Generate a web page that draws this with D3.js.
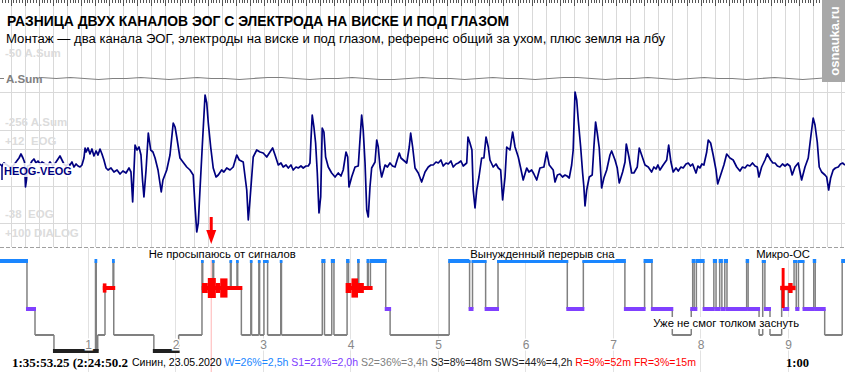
<!DOCTYPE html>
<html>
<head>
<meta charset="utf-8">
<script src="https://cdn.jsdelivr.net/npm/d3@7"></script>
<style>
  body { margin: 0; background: #fff; }
  svg { display: block; font-family: "Liberation Sans", Arial, sans-serif; }
</style>
</head>
<body>
<svg id="chart" width="845" height="372"></svg>
<script>
// ---- data ----
// 60 s page of the record, clock time of its left edge
const windowStart = new Date(2020, 4, 23, 1, 35, 53, 250);
const windowSeconds = 60;
// cursor position, hours since the start of the recording (2:24:50.25)
const cursorHours = 2 + 24 / 60 + 50.25 / 3600;

// HEOG-VEOG, seconds from page start / microvolts
const eogT = [0.00,0.14,0.28,0.50,0.71,0.92,1.14,1.35,1.49,1.63,1.74,1.81,1.88,1.95,2.13,2.27,2.41,2.56,2.70,2.84,2.98,3.20,3.41,3.55,3.76,3.98,4.12,4.26,4.40,4.54,4.69,4.83,4.97,5.11,5.25,5.40,5.54,5.68,5.82,5.96,6.04,6.11,6.25,6.39,6.53,6.67,6.82,6.96,7.10,7.24,7.38,7.53,7.67,7.88,8.09,8.31,8.52,8.73,8.95,9.16,9.30,9.42,9.59,9.73,9.87,10.01,10.12,10.22,10.37,10.53,10.70,10.86,11.01,11.22,11.45,11.57,11.84,12.07,12.30,12.43,12.55,12.78,12.99,13.26,13.49,13.72,13.85,13.97,14.08,14.20,14.36,14.56,14.68,14.79,14.96,15.14,15.34,15.50,15.74,15.90,16.10,16.33,16.56,16.81,16.99,17.27,17.52,17.63,17.75,17.98,18.23,18.46,18.69,18.94,19.17,19.36,19.53,19.76,19.95,20.11,20.31,20.47,20.66,20.82,21.02,21.18,
  21.37,21.53,21.73,21.89,22.01,22.08,22.17,22.29,22.41,22.53,22.65,22.77,22.88,23.00,23.12,23.31,23.55,23.79,24.02,24.21,24.37,24.57,24.69,24.78,24.97,25.21,25.44,25.56,25.68,25.79,25.92,26.04,26.15,26.27,26.39,26.63,26.75,26.86,26.98,27.10,27.34,27.51,27.69,27.87,28.05,28.35,28.47,28.63,28.88,29.06,29.16,29.30,29.47,29.70,29.94,30.18,30.41,30.60,30.76,30.96,31.12,31.31,31.47,31.67,31.83,32.02,32.18,32.38,32.54,32.73,32.89,33.14,33.23,33.37,33.51,33.60,33.73,33.85,34.01,34.20,34.36,34.51,34.67,34.79,35.02,35.22,35.38,35.55,35.69,35.86,35.98,36.21,36.40,36.57,36.80,36.97,37.15,37.40,37.56,37.75,37.91,38.11,38.34,38.62,38.82,39.00,39.28,39.41,39.58,39.76,39.94,40.12,40.26,40.42,
  40.59,40.70,40.83,40.95,41.06,41.23,41.37,41.46,41.54,41.66,41.84,42.05,42.17,42.29,42.41,42.55,42.72,42.88,43.08,43.31,43.43,43.67,43.83,43.97,44.21,44.38,44.47,44.66,44.85,45.01,45.25,45.39,45.56,45.80,46.03,46.27,46.43,46.58,46.72,46.86,47.09,47.34,47.48,47.64,47.80,48.00,48.16,48.35,48.51,48.71,48.87,49.03,49.18,49.31,49.42,49.56,49.70,49.84,49.98,50.18,50.29,50.46,50.64,50.84,50.96,51.17,51.40,51.60,51.83,52.06,52.31,52.54,52.72,52.90,53.07,53.25,53.43,53.61,53.77,53.89,54.08,54.32,54.48,54.72,54.88,55.03,55.20,55.38,55.56,55.74,55.91,56.09,56.25,56.45,56.68,56.92,57.16,57.39,57.56,57.74,57.87,58.03,58.17,58.34,58.58,58.70,58.84,58.98,59.16,59.32,59.52,59.68,59.83,60.00];
const eogV = [1,-1,2,0,-2,-1,3,7,11,7,3,-22,-15,-1,0,4,6,2,4,1,3,1,0,3,-1,3,6,9,5,1,-1,1,0,3,-2,1,-1,-2,0,7,17,13,17,11,16,9,14,10,16,11,5,-3,-5,-3,-7,-5,-9,-6,-8,-3,-7,-37,20,15,18,10,-15,-32,-5,32,15,13,7,-5,-27,-15,-5,10,42,38,28,7,3,-2,-5,-10,-42,-67,-58,-25,18,70,62,42,18,-3,-12,-10,-5,-7,-3,-5,-2,10,5,3,-25,-55,-35,8,15,13,12,8,13,17,10,0,2,-2,0,-3,0,-5,-2,-3,
  -1,-3,-1,-1,2,25,50,38,22,-8,-48,-32,37,33,8,-2,-8,-12,-8,-11,-5,13,8,-22,-12,-2,-1,25,50,35,2,-45,-52,-22,-3,3,25,18,-2,-12,0,-2,2,-1,-2,12,7,5,2,18,32,18,-3,-8,-17,-7,-2,0,0,3,2,5,-1,2,1,4,-2,1,2,4,-1,2,28,22,15,-25,-43,-25,-12,7,7,28,18,5,-2,1,-3,-5,-35,-12,18,15,33,18,8,-3,-15,-3,-7,-5,-9,-15,-3,-2,13,0,-5,-17,-10,-9,-12,-10,-11,-13,
  0,15,73,65,45,18,-8,-22,-41,-25,-12,-10,18,43,32,17,-23,-13,-5,10,14,5,-3,-18,-7,3,21,8,-8,-8,-2,17,10,0,-2,-7,-2,-4,0,-5,0,5,20,3,-7,-3,-6,-2,-3,1,2,-1,1,-4,-8,-1,-3,1,0,13,25,22,10,-5,-19,-10,0,11,7,5,-2,-6,-2,-3,0,-1,2,-1,-2,-12,-2,5,11,5,2,2,-1,-2,1,-1,1,-1,-10,-2,2,-15,-2,7,27,47,40,23,-2,-7,-10,-12,-25,-13,-5,-3,-2,1,2,0];

// A.Sum channel, one sample per second, microvolts around its baseline
const asumT = [2.9,4,5,6,7,8,9,10,11,12,13,14,15,16,17,18,19,20,21,22,23,24,25,26,27,28,29,30,31,32,33,34,35,36,37,38,39,40,41,42,43,44,45,46,47,48,49,50,51,52,53,54,55,56,57,58,59,60];
const asumV = [1,0,1,0,-1,0,0,1,0,-1,0,1,0,0,-1,0,1,1,0,-1,0,0,1,0,-1,-1,0,1,0,0,-1,0,1,0,0,-1,0,1,1,0,-1,0,0,1,0,-1,0,1,0,0,-1,0,1,0,-1,0,1,0];

// hypnogram: epoch (30 s) where each stage starts, and the stage
const hypnoEpoch = [0,37,48,74,131,132,134,144,155,156,211,245,277,278,292,293,316,317,325,326,331,344,345,355,356,362,367,385,386,442,445,455,458,476,478,491,492,504,505,508,529,535,616,644,648,666,683,778,800,857,884,894,922,948,950,952,955,965,979,982,987,990,994,997,1024,1026,1041,1046,1049,1056,1072,1075,1081,1089,1092,1095,1102,1116,1118,1131,1155];
const hypnoStage = ['W','S1','S2','S3','W','S3','S2','R','W','S2','S3','S2','W','R','W','R','W','R','W','R','S2','W','S2','W','S2','W','S2','W','S2','W','S2','W','S2','W','R','W','R','W','R','W','S1','S2','W','S1','W','S1','W','S1','W','S1','W','S1','S2','S1','W','S1','W','S1','W','S1','W','S1','W','S1','W','S1','S2','W','S1','S2','R','S1','R','W','S1','W','S1','W','S1','S2','W'];
const totalEpochs = 1159;

// rapid eye movement bursts during R: start epoch, end epoch, density
const remStart = [141,141,277,285,296,302,474,482,491,499,1070,1072,1081];
const remEnd   = [158,146,285,296,302,312,482,491,499,511,1091,1076,1087];
const remSize  = [1,2.3,2.5,5,2.5,4.8,2.5,4.8,2.5,1,1.1,10,2.5];

const hourTicks = [1,2,3,4,5,6,7,8,9];

const notes = ['Не просыпаюсь от сигналов','Вынужденный перерыв сна','Микро-ОС','Уже не смог толком заснуть'];
const noteEpoch = [204,645,1037,896];
const noteRow = ['top','top','top','low'];

const statText  = ['W=26%=2,5h','S1=21%=2,0h','S2=36%=3,4h','S3=8%=48m','SWS=44%=4,2h','R=9%=52m','FR=3%=15m'];
const statStage = ['W','S1','S2','S3','SWS','R','FR'];

// ---- drawing ----
const width = 845, height = 372;
const svg = d3.select('#chart');
svg.append('rect').attr('width', width).attr('height', height).attr('fill', '#fff');
const defs = svg.append('defs');

const windowEnd = new Date(+windowStart + windowSeconds * 1000);
const x = d3.scaleTime().domain([windowStart, windowEnd]).range([0, width]);
const tDate = s => new Date(+windowStart + s * 1000);

// grid: one line per second
const gridColor = '#d9d9d9';
const seconds = x.ticks(d3.timeSecond.every(1));
svg.append('g').selectAll('line').data(seconds).join('line')
  .attr('x1', d => Math.round(x(d)) + 0.5).attr('x2', d => Math.round(x(d)) + 0.5)
  .attr('y1', 6).attr('y2', 247)
  .attr('stroke', gridColor);

// ruler along the top edge
const fifths = x.ticks(d3.timeMillisecond.every(200));
svg.append('g').selectAll('line').data(fifths).join('line')
  .attr('x1', d => Math.round(x(d)) + 0.5).attr('x2', d => Math.round(x(d)) + 0.5)
  .attr('y1', 0).attr('y2', d => d.getMilliseconds() === 0 ? 6 : 3)
  .attr('stroke', '#555');

// horizontal lines of the EOG panel
const y = d3.scaleLinear().domain([-100, 100]).range([265, 65]);
const eogGrid = [73, 35, 16, -21, -58];
svg.append('g').selectAll('line').data(eogGrid).join('line')
  .attr('x1', 0).attr('x2', width)
  .attr('y1', d => Math.round(y(d)) + 0.5).attr('y2', d => Math.round(y(d)) + 0.5)
  .attr('stroke', gridColor);

// faint scale captions of hidden channels
const faint = [['-50 A.Sum', 57], ['-256 A.Sum', 126], ['+12  EOG', 145], ['-38  EOG', 218], ['+100 DIALOG', 237]];
svg.append('g')
  .selectAll('text').data(faint).join('text')
  .attr('x', 5).attr('y', d => d[1])
  .attr('font-size', 11.5).attr('font-weight', 'bold')
  .attr('fill', '#dcdcdc').style('white-space', 'pre')
  .text(d => d[0]);

// title
svg.append('text').attr('x', 7).attr('y', 26)
  .attr('font-size', 14).attr('font-weight', 'bold').attr('fill', '#000')
  .attr('textLength', 502).attr('lengthAdjust', 'spacingAndGlyphs')
  .text('РАЗНИЦА ДВУХ КАНАЛОВ ЭОГ С ЭЛЕКТРОДА НА ВИСКЕ И ПОД ГЛАЗОМ');
svg.append('text').attr('x', 6).attr('y', 43)
  .attr('font-size', 12.5).attr('fill', '#000')
  .attr('textLength', 659).attr('lengthAdjust', 'spacingAndGlyphs')
  .text('Монтаж — два канала ЭОГ, электроды на виске и под глазом, референс общий за ухом, плюс земля на лбу');

// A.Sum trace
const ya = d3.scaleLinear().domain([-10, 10]).range([88.5, 68.5]);
svg.append('line').attr('x1', 0).attr('x2', 4).attr('y1', 78.5).attr('y2', 78.5).attr('stroke', '#808080');
svg.append('text').attr('x', 6).attr('y', 83).attr('font-size', 11.5).attr('font-weight', 'bold')
  .attr('fill', '#808080').text('A.Sum');
svg.append('path')
  .datum(asumT.map((t, i) => ({ t: tDate(t), v: asumV[i] })))
  .attr('fill', 'none').attr('stroke', '#808080').attr('stroke-width', 1.2)
  .attr('d', d3.line().x(d => x(d.t)).y(d => ya(d.v)));

// watermark
svg.append('rect').attr('x', 822).attr('y', 0).attr('width', 23).attr('height', 82).attr('fill', '#a8a8a8');
svg.append('text').attr('transform', 'translate(839,41) rotate(-90)')
  .attr('text-anchor', 'middle').attr('font-size', 13).attr('font-weight', 'bold')
  .attr('fill', '#fff').text('osnauka.ru');

// EOG trace
svg.append('path')
  .datum(eogT.map((t, i) => ({ t: tDate(t), v: eogV[i] })))
  .attr('fill', 'none').attr('stroke', '#000080').attr('stroke-width', 1.7)
  .attr('stroke-linejoin', 'round')
  .attr('d', d3.line().x(d => x(d.t)).y(d => y(d.v)));

// channel label
const lab = svg.append('g');
lab.append('rect').attr('x', 3).attr('y', 163).attr('width', 66).attr('height', 14).attr('fill', '#fff').attr('opacity', 0.85);
lab.append('line').attr('x1', 2).attr('x2', 2).attr('y1', 165).attr('y2', 180).attr('stroke', '#000080').attr('stroke-width', 1.5);
lab.append('text').attr('x', 4).attr('y', 175).attr('font-size', 11).attr('font-weight', 'bold')
  .attr('fill', '#000080').text('HEOG-VEOG');

// dashed separator
svg.append('line').attr('x1', 0).attr('x2', width).attr('y1', 247.5).attr('y2', 247.5)
  .attr('stroke', '#a0a0a0').attr('stroke-dasharray', '4,2');

// ---- hypnogram ----
const hx = d3.scaleLinear().domain([0, 120]).range([0, 87.5]); // 120 epochs per hour
const level = d3.scaleOrdinal().domain(['W', 'R', 'S1', 'S2', 'S3']).range([261, 288, 309, 335, 351]);
const stageColor = { W: '#1a86ff', R: '#ff0000', S1: '#8040ff', S2: '#808080', S3: '#202020', SWS: '#202020', FR: '#ff0000' };

const hours = hourTicks.map(h => h * 120);
svg.append('g').selectAll('line').data(hours).join('line')
  .attr('x1', d => Math.round(hx(d)) + 0.5).attr('x2', d => Math.round(hx(d)) + 0.5)
  .attr('y1', 248).attr('y2', height).attr('stroke', '#e2e2e2');

// cursor
const cx = hx(cursorHours * 120);
svg.append('line').attr('x1', cx).attr('x2', cx).attr('y1', 248).attr('y2', height)
  .attr('stroke', '#ffb4b4').attr('stroke-width', 1);

const segs = hypnoEpoch.map((e, i) => ({
  stage: hypnoStage[i], start: e,
  end: i < hypnoEpoch.length - 1 ? hypnoEpoch[i + 1] : totalEpochs,
  prev: i > 0 ? hypnoStage[i - 1] : null
}));

const hg = svg.append('g');
hg.selectAll('line.s2').data(segs.filter(d => d.stage === 'S2')).join('line')
  .attr('x1', d => hx(d.start)).attr('x2', d => hx(d.end))
  .attr('y1', d => level(d.stage)).attr('y2', d => level(d.stage))
  .attr('stroke', '#808080').attr('stroke-width', 2);
hg.selectAll('line.tr').data(segs.filter(d => d.prev)).join('line')
  .attr('x1', d => hx(d.start)).attr('x2', d => hx(d.start))
  .attr('y1', d => level(d.prev)).attr('y2', d => level(d.stage))
  .attr('stroke', '#808080').attr('stroke-width', 1.5);
hg.selectAll('rect.bar').data(segs.filter(d => d.stage !== 'S2')).join('rect')
  .attr('x', d => hx(d.start) - 1).attr('width', d => hx(d.end) - hx(d.start) + 2)
  .attr('y', d => level(d.stage) - 2).attr('height', 4)
  .attr('fill', d => stageColor[d.stage]);

// REM bursts
const rems = remStart.map((s, i) => ({ s, e: remEnd[i], k: remSize[i] }));
hg.selectAll('rect.rem').data(rems).join('rect')
  .attr('x', d => hx(d.s)).attr('width', d => hx(d.e) - hx(d.s))
  .attr('y', d => level('R') - 2 * d.k).attr('height', d => 4 * d.k)
  .attr('fill', '#ff0000');

// hour numbers
svg.append('g').selectAll('text').data(hourTicks).join('text')
  .attr('x', d => hx(d * 120) + 1).attr('y', 349)
  .attr('text-anchor', 'middle').attr('font-size', 12).attr('fill', '#888')
  .attr('stroke', '#fff').attr('stroke-width', 3).attr('paint-order', 'stroke')
  .text(d => d);

// notes
const ng = svg.append('g');
notes.forEach((n, i) => {
  const by = noteRow[i] === 'top' ? 258 : 327;
  const t = ng.append('text').attr('x', hx(noteEpoch[i])).attr('y', by)
    .attr('font-size', 11.25).attr('fill', '#000').text(n);
  const w = t.node().getComputedTextLength();
  ng.insert('rect', 'text').attr('x', hx(noteEpoch[i]) - 1).attr('y', by - 10)
    .attr('width', w + 2).attr('height', 12).attr('fill', '#fff');
});

// red arrow at the cursor
const arrow = svg.append('g').attr('fill', '#ff0000');
arrow.append('rect').attr('x', cx - 1.5).attr('y', 217).attr('width', 3).attr('height', 14);
arrow.append('path').attr('d', `M${cx - 5},230 L${cx + 5},230 L${cx},244 Z`);

// bottom line: the clock field is cut by the stats field, as in the viewer
const fmtClock = d => d3.timeFormat('%-H:%M:%S')(d) + '.' + String(Math.round(d.getMilliseconds() / 10)).padStart(2, '0');
const elapsed = new Date(2000, 0, 1, 0, 0, 0, Math.round(cursorHours * 3600000));
const clockField = (fmtClock(windowStart) + ' (' + fmtClock(elapsed) + ')').slice(0, 21);
svg.append('text').attr('x', 12).attr('y', 367).attr('font-size', 13).attr('font-weight', 'bold')
  .attr('font-family', '"Liberation Serif", serif')
  .text(clockField);
const st = svg.append('text').attr('x', 132).attr('y', 366).attr('font-size', 11)
  .attr('textLength', 564).attr('lengthAdjust', 'spacingAndGlyphs');
st.append('tspan').attr('fill', '#000').text('Синин, ' + d3.timeFormat('%d.%m.%Y')(windowStart) + ' ');
statText.forEach((s, i) => {
  st.append('tspan').attr('fill', stageColor[statStage[i]]).text(s + (i < statText.length - 1 ? ' ' : ''));
});
svg.append('text').attr('x', 786).attr('y', 367).attr('font-size', 12.5).attr('font-weight', 'bold')
  .attr('font-family', '"Liberation Serif", serif')
  .text(d3.timeFormat('%-M:%S')(new Date(2000, 0, 1, 0, windowSeconds / 60, 0)));
</script>
</body>
</html>
